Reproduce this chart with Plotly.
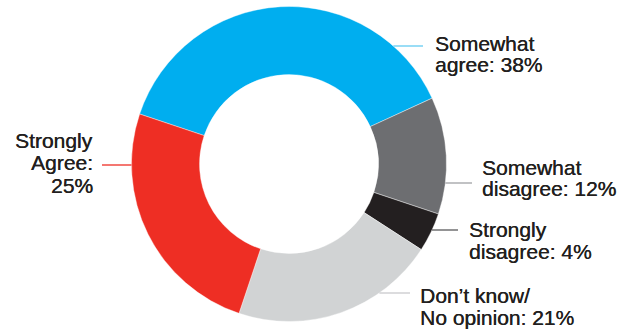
import plotly.graph_objects as go

# Survey responses (share of respondents, %)
categories = ["Somewhat agree", "Somewhat disagree", "Strongly disagree",
              "Don't know/No opinion", "Strongly Agree"]
values = [38, 12, 4, 21, 25]
slice_colors = ["#00AEEF", "#6D6E71", "#231F20", "#D1D3D4", "#EE2E24"]
leader_colors = ["#63CBF2", "#A0A1A4", "#5A5A5C", "#C9CACC", "#EE2E24"]
label_lines = [
    ["Somewhat", "agree: 38%"],
    ["Somewhat", "disagree: 12%"],
    ["Strongly", "disagree: 4%"],
    ["Don\u2019t know/", "No opinion: 21%"],
    ["Strongly", "Agree:", "25%"],
]

W, H = 631, 330
CX, CY, R = 289.0, 164.0, 157.5   # ring centre and outer radius in pixels
HOLE = 0.568

# label layout: (leader y, leader outer x, text x, text anchor, first line y, line step)
label_layout = [
    (46, 423, 433, "left", 43, 21),
    (183, 472, 480, "left", 167.5, 20.5),
    (230, 458, 467, "left", 229.5, 21.5),
    (293, 410, 418, "left", 295.5, 21.5),
    (165, 102, 95, "right", 140, 22.8),
]

fig = go.Figure(go.Pie(
    labels=categories,
    values=values,
    hole=HOLE,
    sort=False,
    direction="clockwise",
    rotation=-71.5,
    marker=dict(colors=slice_colors, line=dict(color="white", width=0.4)),
    textinfo="none",
    hoverinfo="label+percent",
    showlegend=False,
    domain=dict(x=[(CX - R) / W, (CX + R) / W],
                y=[1 - (CY + R) / H, 1 - (CY - R) / H]),
))

px = lambda x: x / W
py = lambda y: 1 - y / H

shapes, annotations = [], []
for lines, (ly, lx, tx, anchor, y0, step), col in zip(label_lines, label_layout, leader_colors):
    # inner end of the leader sits on the outer edge of the ring
    dx = (R ** 2 - (ly - CY) ** 2) ** 0.5
    edge = CX + dx if anchor == "left" else CX - dx
    shapes.append(dict(type="line", xref="paper", yref="paper",
                       x0=px(edge), x1=px(lx), y0=py(ly), y1=py(ly),
                       line=dict(color=col, width=1.3)))
    for i, t in enumerate(lines):
        annotations.append(dict(text=t, xref="paper", yref="paper",
                                x=px(tx), y=py(y0 + i * step),
                                xanchor=anchor, yanchor="middle",
                                showarrow=False, align=anchor,
                                font=dict(family="Liberation Sans, Arial, sans-serif",
                                          size=21, color="#231F20",
                                          shadow="0.35px 0 0 #231F20")))

fig.update_layout(
    width=W, height=H,
    margin=dict(l=0, r=0, t=0, b=0),
    paper_bgcolor="white",
    plot_bgcolor="white",
    shapes=shapes,
    annotations=annotations,
)

fig.write_html("out.html")
